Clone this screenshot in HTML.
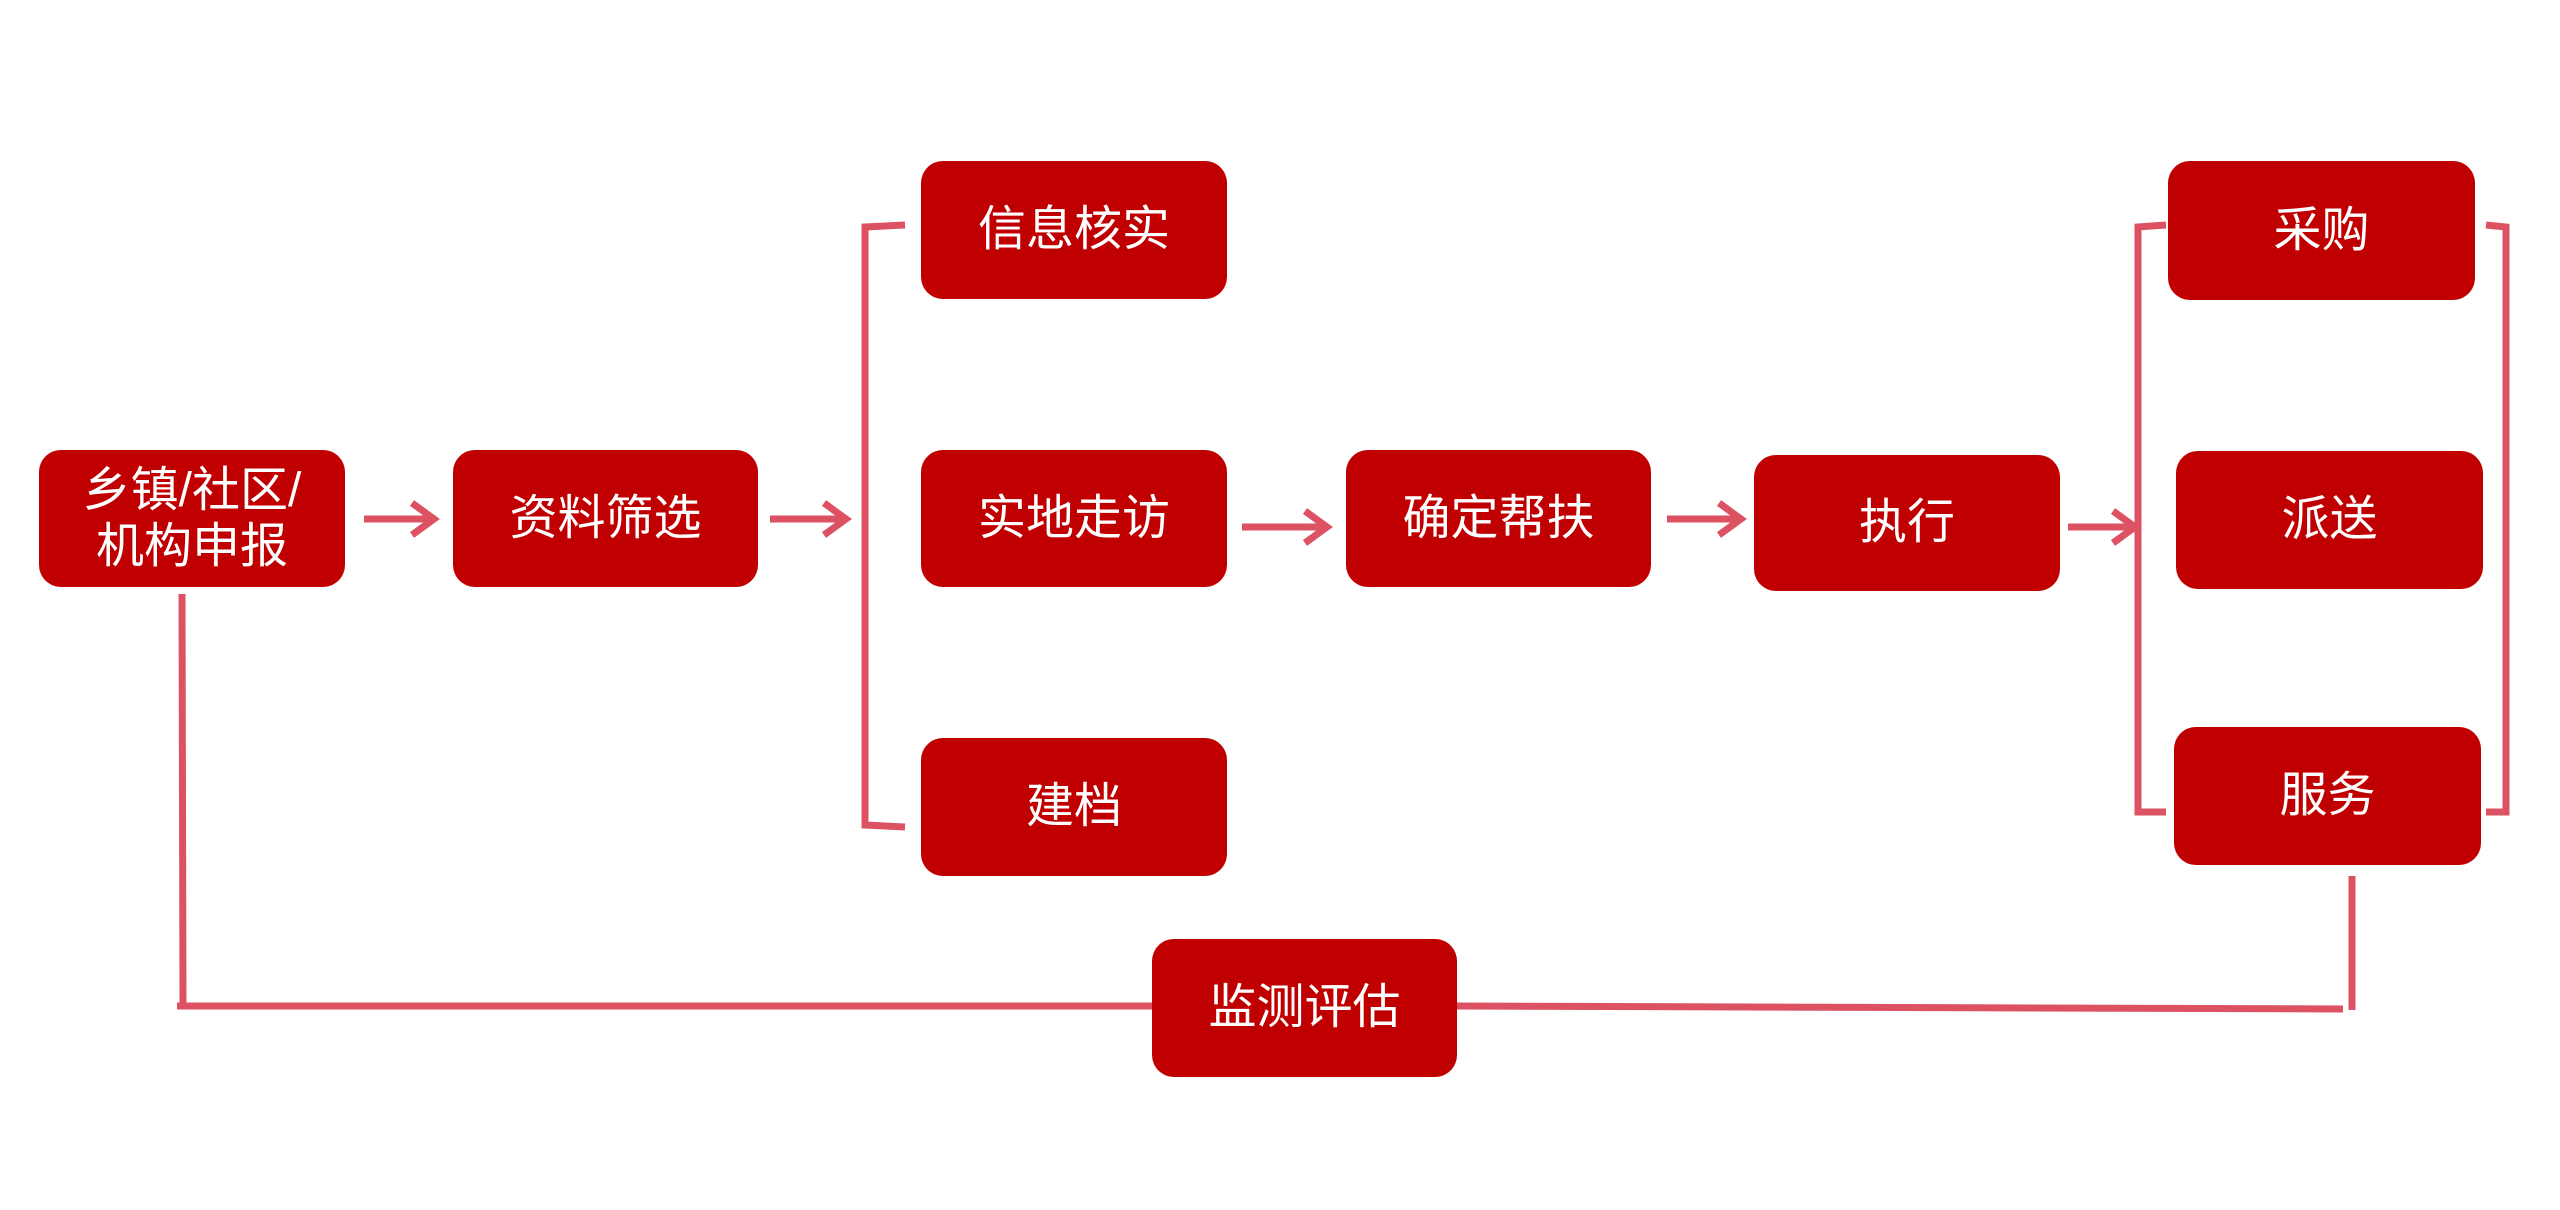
<!DOCTYPE html>
<html><head><meta charset="utf-8"><style>
html,body{margin:0;padding:0;background:#fff;}
body{width:2560px;height:1210px;position:relative;overflow:hidden;font-family:"Liberation Sans","Noto Sans CJK SC",sans-serif;}
.b{position:absolute;background:#c00000;border-radius:22px;color:#fff;font-size:48px;display:flex;align-items:center;justify-content:center;text-align:center;line-height:56px;}
svg{position:absolute;left:0;top:0;}
</style></head><body>
<svg width="2560" height="1210" viewBox="0 0 2560 1210">
<g stroke="#dc5262" stroke-width="7" fill="none" stroke-linecap="butt">
<line x1="364" y1="519" x2="432" y2="519"/><polyline points="412,503 434,519 412,535"/>
<line x1="770" y1="519" x2="844" y2="519"/><polyline points="824,503 846,519 824,535"/>
<line x1="1242" y1="527" x2="1325" y2="527"/><polyline points="1305,511 1327,527 1305,543"/>
<line x1="1667" y1="519" x2="1739" y2="519"/><polyline points="1719,503 1741,519 1719,535"/>
<line x1="2068" y1="527" x2="2133" y2="527"/><polyline points="2113,511 2135,527 2113,543"/>
<polyline points="905,225 865,227 865,825 905,827"/>
<polyline points="2166,225 2138,227 2138,812 2166,812"/>
<polyline points="2486,225 2506,227 2506,812 2486,812"/>
<polyline points="182,594 183,1006 177,1006 1152,1006"/>
<polyline points="1457,1006 2343,1009"/>
<line x1="2352" y1="876" x2="2352" y2="1010"/>
</g>
</svg>
<div class="b" style="left:39px;top:450px;width:306px;height:137px;">乡镇/社区/<br>机构申报</div>
<div class="b" style="left:453px;top:450px;width:305px;height:137px;">资料筛选</div>
<div class="b" style="left:921px;top:161px;width:306px;height:138px;">信息核实</div>
<div class="b" style="left:921px;top:450px;width:306px;height:137px;">实地走访</div>
<div class="b" style="left:921px;top:738px;width:306px;height:138px;">建档</div>
<div class="b" style="left:1346px;top:450px;width:305px;height:137px;">确定帮扶</div>
<div class="b" style="left:1754px;top:455px;width:306px;height:136px;">执行</div>
<div class="b" style="left:2168px;top:161px;width:307px;height:139px;">采购</div>
<div class="b" style="left:2176px;top:451px;width:307px;height:138px;">派送</div>
<div class="b" style="left:2174px;top:727px;width:307px;height:138px;">服务</div>
<div class="b" style="left:1152px;top:939px;width:305px;height:138px;">监测评估</div>
</body></html>
